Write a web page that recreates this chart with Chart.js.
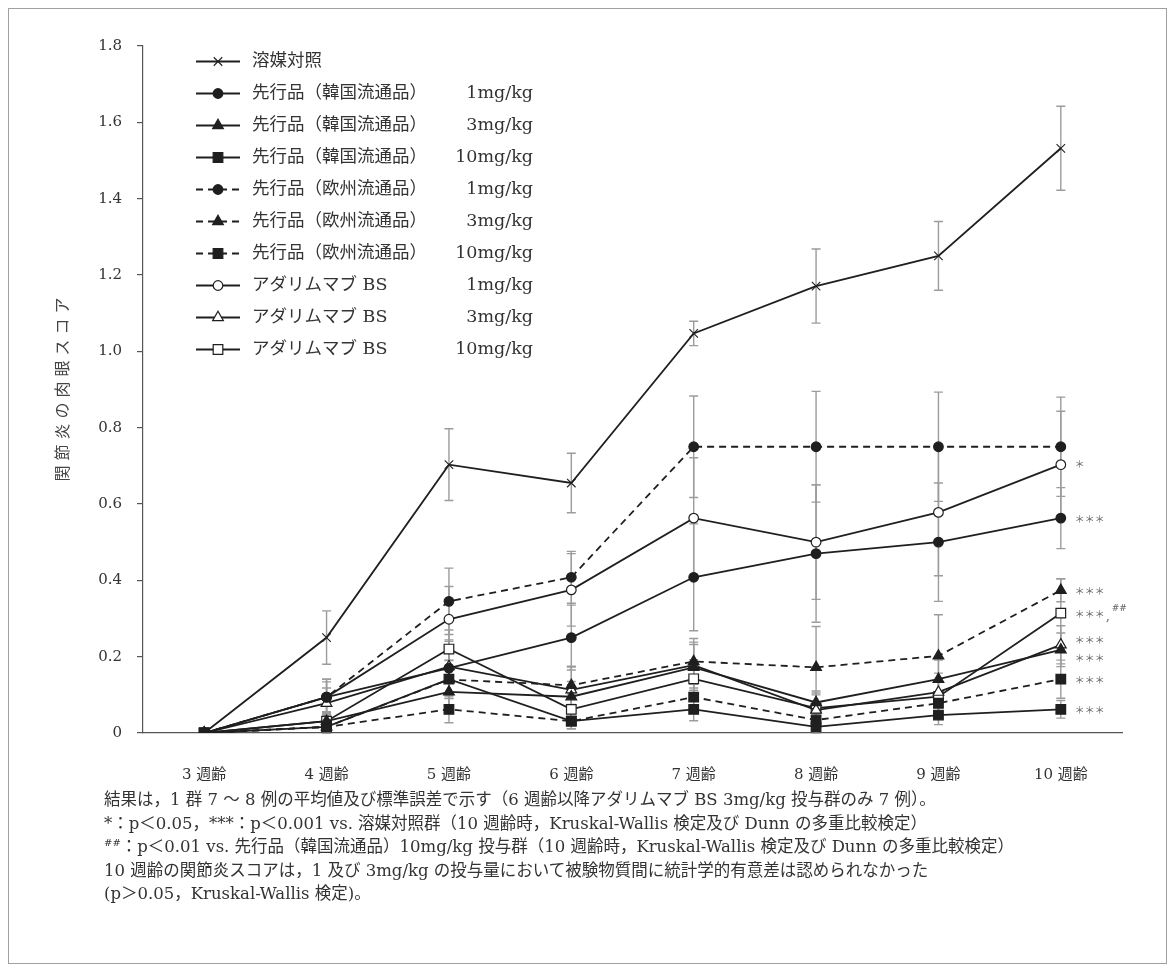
<!DOCTYPE html>
<html>
<head>
<meta charset="utf-8">
<script src="https://cdn.jsdelivr.net/npm/chart.js@4.4.1/dist/chart.umd.min.js"></script>
<style>
  html, body { margin: 0; padding: 0; background: #fff; }
  #wrap { position: relative; width: 1174px; height: 971px; overflow: hidden; }
  #frame { position: absolute; left: 8px; top: 8px; width: 1157px; height: 954px; border: 1px solid #a0a0a0; }
  #chart { position: absolute; left: 0; top: 0; }
  #notes { position: absolute; left: 104px; top: 788px; font-family: "DejaVu Serif", "Noto Sans CJK JP", serif;
           font-size: 16.5px; line-height: 23.5px; color: #333; white-space: nowrap; }
  #notes sup { font-size: 10px; line-height: 0; vertical-align: 6px; }
</style>
</head>
<body>
<div id="wrap">
  <div id="frame"></div>
  <canvas id="chart" width="1174" height="971"></canvas>
  <div id="notes">
    <div>結果は，1 群 7 ～ 8 例の平均値及び標準誤差で示す（6 週齢以降アダリムマブ BS 3mg/kg 投与群のみ 7 例）。</div>
    <div>*：p＜0.05，***：p＜0.001 vs. 溶媒対照群（10 週齢時，Kruskal-Wallis 検定及び Dunn の多重比較検定）</div>
    <div><sup>##</sup>：p＜0.01 vs. 先行品（韓国流通品）10mg/kg 投与群（10 週齢時，Kruskal-Wallis 検定及び Dunn の多重比較検定）</div>
    <div>10 週齢の関節炎スコアは，1 及び 3mg/kg の投与量において被験物質間に統計学的有意差は認められなかった</div>
    <div>(p＞0.05，Kruskal-Wallis 検定)。</div>
  </div>
</div>
<script>
// Time points (age in weeks)
const weeks = ['3 週齢', '4 週齢', '5 週齢', '6 週齢', '7 週齢', '8 週齢', '9 週齢', '10 週齢'];

// Group names and doses
const seriesNames = [
  '溶媒対照',
  '先行品（韓国流通品）', '先行品（韓国流通品）', '先行品（韓国流通品）',
  '先行品（欧州流通品）', '先行品（欧州流通品）', '先行品（欧州流通品）',
  'アダリムマブ BS', 'アダリムマブ BS', 'アダリムマブ BS'
];
const seriesDoses = ['', '1mg/kg', '3mg/kg', '10mg/kg', '1mg/kg', '3mg/kg', '10mg/kg', '1mg/kg', '3mg/kg', '10mg/kg'];

// Mean arthritis scores
const vehicleMean = [0, 0.25, 0.703, 0.655, 1.047, 1.171, 1.25, 1.532];
const kr1Mean  = [0, 0.094, 0.17, 0.25, 0.408, 0.47, 0.50, 0.563];
const kr3Mean  = [0, 0.031, 0.108, 0.095, 0.172, 0.08, 0.141, 0.218];
const kr10Mean = [0, 0.016, 0.141, 0.031, 0.062, 0.016, 0.047, 0.062];
const eu1Mean  = [0, 0.094, 0.345, 0.408, 0.75, 0.75, 0.75, 0.75];
const eu3Mean  = [0, 0.016, 0.14, 0.125, 0.1875, 0.172, 0.202, 0.374];
const eu10Mean = [0, 0.016, 0.062, 0.031, 0.094, 0.034, 0.078, 0.141];
const bs1Mean  = [0, 0.094, 0.298, 0.375, 0.563, 0.50, 0.578, 0.703];
const bs3Mean  = [0, 0.078, 0.174, 0.113, 0.178, 0.06, 0.107, 0.231];
const bs10Mean = [0, 0.031, 0.22, 0.062, 0.142, 0.065, 0.095, 0.314];

// Standard errors
const vehicleSE = [0, 0.07, 0.094, 0.078, 0.032, 0.097, 0.09, 0.11];
const kr1SE  = [0, 0.04, 0.07, 0.085, 0.14, 0.18, 0.155, 0.08];
const kr3SE  = [0, 0.02, 0.04, 0.04, 0.06, 0.03, 0.05, 0.044];
const kr10SE = [0, 0.016, 0.05, 0.02, 0.03, 0.016, 0.025, 0.023];
const eu1SE  = [0, 0.047, 0.087, 0.068, 0.133, 0.145, 0.143, 0.13];
const eu3SE  = [0, 0.016, 0.05, 0.05, 0.06, 0.107, 0.108, 0.03];
const eu10SE = [0, 0.016, 0.035, 0.02, 0.04, 0.02, 0.03, 0.05];
const bs1SE  = [0, 0.047, 0.086, 0.095, 0.158, 0.15, 0.166, 0.14];
const bs3SE  = [0, 0.04, 0.07, 0.06, 0.06, 0.04, 0.05, 0.05];
const bs10SE = [0, 0.025, 0.05, 0.04, 0.05, 0.04, 0.04, 0.09];

// Significance marks at 10 weeks
const sigMarks = ['', '***', '***', '***', '', '***', '***', '*', '***', '***,##'];

// Y-axis tick values and title
const yTicks = [0, 0.2, 0.4, 0.6, 0.8, 1.0, 1.2, 1.4, 1.6, 1.8];
const yTitle = '関節炎の肉眼スコア';

const means = [vehicleMean, kr1Mean, kr3Mean, kr10Mean, eu1Mean, eu3Mean, eu10Mean, bs1Mean, bs3Mean, bs10Mean];
const errors = [vehicleSE, kr1SE, kr3SE, kr10SE, eu1SE, eu3SE, eu10SE, bs1SE, bs3SE, bs10SE];

// Marker styling per group
const INK = '#1f1f1f';
const styles = [
  { shape: 'crossRot', filled: true,  dashed: false, r: 6,   bw: 1.1 },
  { shape: 'circle',   filled: true,  dashed: false, r: 4.8, bw: 1.2 },
  { shape: 'triangle', filled: true,  dashed: false, r: 6.2, bw: 1.2 },
  { shape: 'rect',     filled: true,  dashed: false, r: 6.8, bw: 1.2 },
  { shape: 'circle',   filled: true,  dashed: true,  r: 4.8, bw: 1.2 },
  { shape: 'triangle', filled: true,  dashed: true,  r: 6.2, bw: 1.2 },
  { shape: 'rect',     filled: true,  dashed: true,  r: 6.8, bw: 1.2 },
  { shape: 'circle',   filled: false, dashed: false, r: 4.8, bw: 1.2 },
  { shape: 'triangle', filled: false, dashed: false, r: 6.2, bw: 1.2 },
  { shape: 'rect',     filled: false, dashed: false, r: 6.8, bw: 1.2 }
];
const DASH = [7, 5];
const SERIF = '"DejaVu Serif", "Noto Sans CJK JP", serif';

const datasets = means.map((m, i) => {
  const s = styles[i];
  return {
    label: seriesNames[i] + (seriesDoses[i] ? ' ' + seriesDoses[i] : ''),
    data: m,
    se: errors[i],
    sig: sigMarks[i],
    borderColor: INK,
    borderWidth: 1.8,
    borderDash: s.dashed ? DASH : [],
    pointStyle: s.shape,
    pointRadius: s.r,
    pointHoverRadius: s.r,
    pointBorderWidth: s.bw,
    pointBorderColor: INK,
    pointBackgroundColor: s.filled ? INK : '#ffffff',
    fill: false,
    tension: 0
  };
});

// Vertical error bars with caps, drawn under the lines
const errorBars = {
  id: 'errorBars',
  beforeDatasetsDraw(chart) {
    const { ctx, scales: { x, y } } = chart;
    ctx.save();
    ctx.strokeStyle = '#9c9c9c';
    ctx.lineWidth = 1.4;
    chart.data.datasets.forEach(ds => {
      ds.data.forEach((v, j) => {
        const e = ds.se[j];
        if (!e) return;
        const px = x.getPixelForValue(j);
        const top = y.getPixelForValue(v + e);
        const bot = y.getPixelForValue(Math.max(0, v - e));
        ctx.beginPath();
        ctx.moveTo(px, top); ctx.lineTo(px, bot);
        ctx.moveTo(px - 4.5, top); ctx.lineTo(px + 4.5, top);
        ctx.moveTo(px - 4.5, bot); ctx.lineTo(px + 4.5, bot);
        ctx.stroke();
      });
    });
    ctx.restore();
  }
};

// Significance labels beside the 10-week points (small vertical nudges keep close labels apart)
const sigNudge = [0, 0, 7, 0, 0, 0, 0, -1, -6, 0];
const sigLabels = {
  id: 'sigLabels',
  afterDatasetsDraw(chart) {
    const { ctx, scales: { x, y } } = chart;
    const last = weeks.length - 1;
    ctx.save();
    ctx.fillStyle = '#666';
    ctx.textBaseline = 'middle';
    chart.data.datasets.forEach((ds, i) => {
      if (!ds.sig) return;
      const px = x.getPixelForValue(last) + 14;
      const py = y.getPixelForValue(ds.data[last]) + sigNudge[i];
      const [stars, hashes] = ds.sig.split(',');
      ctx.font = '10px "Noto Sans CJK JP", sans-serif';
      const starText = stars.replace(/\*/g, '＊');
      ctx.textAlign = 'left';
      ctx.fillText(starText, px, py + 1);
      if (hashes) {
        const w = ctx.measureText(starText).width;
        ctx.font = '13px ' + SERIF;
        ctx.fillText(',', w + px + 1, py + 3);
        ctx.font = '9px ' + SERIF;
        ctx.fillText(hashes, w + px + 7, py - 5);
      }
    });
    ctx.restore();
  }
};

// Legend: line sample with marker, group name and dose; plus rotated y-axis title
const legendBox = {
  id: 'legendBox',
  afterDraw(chart) {
    const { ctx, chartArea } = chart;
    const x0 = 196, x1 = 240, xm = 218, xt = 252, xd = 533, y0 = 61.5, dy = 32;
    ctx.save();
    chart.data.datasets.forEach((ds, i) => {
      const yy = y0 + i * dy;
      ctx.strokeStyle = INK;
      ctx.lineWidth = 1.8;
      ctx.setLineDash(ds.borderDash);
      ctx.beginPath(); ctx.moveTo(x0, yy); ctx.lineTo(x1, yy); ctx.stroke();
      ctx.setLineDash([]);
      ctx.fillStyle = ds.pointBackgroundColor;
      ctx.strokeStyle = ds.pointBorderColor;
      ctx.lineWidth = ds.pointBorderWidth;
      Chart.helpers.drawPoint(ctx, {
        pointStyle: ds.pointStyle, radius: ds.pointRadius, borderWidth: ds.pointBorderWidth, rotation: 0
      }, xm, yy);
      ctx.fillStyle = '#333';
      ctx.font = '17.5px ' + SERIF;
      ctx.textBaseline = 'middle';
      ctx.textAlign = 'left';
      ctx.fillText(seriesNames[i], xt, yy);
      if (seriesDoses[i]) {
        ctx.textAlign = 'right';
        ctx.fillText(seriesDoses[i], xd, yy);
      }
    });
    // y-axis title
    ctx.translate(62, (chartArea.top + chartArea.bottom) / 2);
    ctx.rotate(-Math.PI / 2);
    ctx.fillStyle = '#444';
    ctx.font = '16px "Noto Sans CJK JP", sans-serif';
    ctx.letterSpacing = '5px';
    ctx.textAlign = 'center';
    ctx.textBaseline = 'middle';
    ctx.fillText(yTitle, 2.5, 0);
    ctx.restore();
  }
};

new Chart(document.getElementById('chart'), {
  type: 'line',
  data: { labels: weeks, datasets },
  plugins: [errorBars, sigLabels, legendBox],
  options: {
    responsive: false,
    devicePixelRatio: 1,
    animation: false,
    layout: { padding: { top: 46, right: 52, bottom: 178, left: 0 } },
    plugins: { legend: { display: false }, tooltip: { enabled: false } },
    scales: {
      x: {
        offset: true,
        grid: { display: false },
        border: { display: true, color: '#555', width: 1.2 },
        ticks: { color: '#333', font: { family: SERIF, size: 15 }, padding: 25, maxRotation: 0 },
        afterFit(s) { s.height = 60; }
      },
      y: {
        min: 0, max: 1.8,
        afterBuildTicks(s) { s.ticks = yTicks.map(v => ({ value: v })); },
        grid: { display: true, drawOnChartArea: false, drawTicks: true, tickLength: 6, color: '#555', lineWidth: 1.2 },
        border: { display: true, color: '#555', width: 1.2 },
        ticks: {
          color: '#333', padding: 15, font: { family: SERIF, size: 15 },
          callback: v => v === 0 ? '0' : Number(v).toFixed(1)
        },
        afterFit(s) { s.width = 143; }
      }
    }
  }
});
</script>
</body>
</html>
